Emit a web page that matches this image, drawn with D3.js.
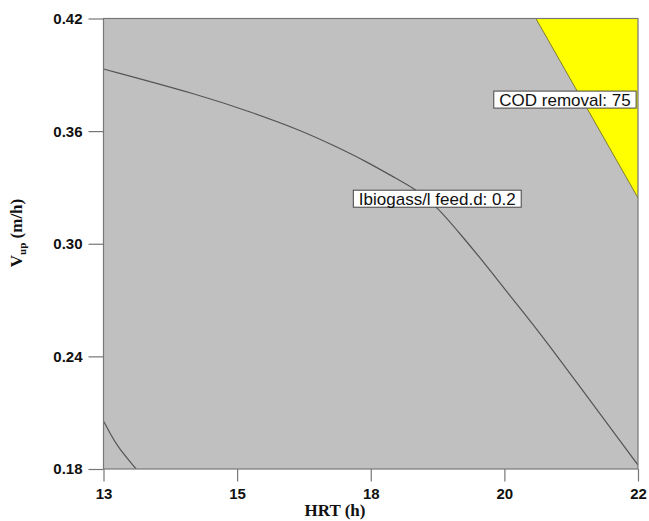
<!DOCTYPE html>
<html>
<head>
<meta charset="utf-8">
<script src="https://cdn.jsdelivr.net/npm/d3@7"></script>
<style>
  body { margin: 0; background: #fff; }
  svg { display: block; }
</style>
</head>
<body>
<svg width="649" height="521"></svg>
<script>
var WIDTH = 649;
var HEIGHT = 521;
var margin = { top: 18.5, right: 11, bottom: 52, left: 103.5 };

// axis ticks (labels are rounded in the original plot)
var xTickValues = [13, 15.25, 17.5, 19.75, 22];
var xTickLabels = ['13', '15', '18', '20', '22'];
var yTickValues = [0.18, 0.24, 0.30, 0.36, 0.42];
var yTickLabels = ['0.18', '0.24', '0.30', '0.36', '0.42'];

// contour: Ibiogass/l feed.d = 0.2  (HRT, Vup)
var biogasHRT = [13.00, 14.63, 15.47, 16.31, 16.86, 17.44, 17.88, 18.28, 18.62, 19.05, 19.51, 19.90, 20.32, 22.00];
var biogasVup = [0.3931, 0.3792, 0.3703, 0.3606, 0.3526, 0.3436, 0.3356, 0.3286, 0.3196, 0.3036, 0.2860, 0.2700, 0.2540, 0.1821];

// second small piece of the same contour, bottom left corner
var biogas2HRT = [13.00, 13.11, 13.24, 13.55];
var biogas2Vup = [0.2056, 0.1990, 0.1917, 0.1800];

// feasible region for COD removal >= 75 (yellow)
var codHRT = [20.28, 22.00, 22.00];
var codVup = [0.4200, 0.4200, 0.3244];

// flag labels on the contours
var labelText = ['COD removal: 75', 'Ibiogass/l feed.d: 0.2'];
var labelHRT = [20.77, 18.62];
var labelVup = [0.3768, 0.3240];

var innerW = WIDTH - margin.left - margin.right;
var innerH = HEIGHT - margin.top - margin.bottom;

var svg = d3.select('svg');

var x = d3.scaleLinear().domain([13, 22]).range([0, innerW]);
var y = d3.scaleLinear().domain([0.18, 0.42]).range([innerH, 0]);

var g = svg.append('g')
    .attr('transform', 'translate(' + margin.left + ',' + margin.top + ')');

g.append('clipPath').attr('id', 'plotclip')
  .append('rect').attr('width', innerW).attr('height', innerH);

// grey background of the overlay plot
g.append('rect')
    .attr('width', innerW)
    .attr('height', innerH)
    .attr('fill', '#c0c0c0');

var plot = g.append('g').attr('clip-path', 'url(#plotclip)');

var line = d3.line()
    .x(function(d) { return x(d[0]); })
    .y(function(d) { return y(d[1]); });

var codPts = codHRT.map(function(v, i) { return [v, codVup[i]]; });
plot.append('path')
    .attr('d', line(codPts) + 'Z')
    .attr('fill', '#ffff00');
plot.append('path')
    .attr('d', line([codPts[0], codPts[2]]))
    .attr('fill', 'none')
    .attr('stroke', '#7d7d30')
    .attr('stroke-width', 1);

var curve = d3.line()
    .x(function(d) { return x(d[0]); })
    .y(function(d) { return y(d[1]); })
    .curve(d3.curveBasis);

[[biogasHRT, biogasVup], [biogas2HRT, biogas2Vup]].forEach(function(s) {
  var pts = s[0].map(function(v, i) { return [v, s[1][i]]; });
  plot.append('path')
      .attr('d', curve(pts))
      .attr('fill', 'none')
      .attr('stroke', '#555')
      .attr('stroke-width', 1.2);
});

// frame
g.append('rect')
    .attr('width', innerW)
    .attr('height', innerH)
    .attr('fill', 'none')
    .attr('stroke', '#777')
    .attr('stroke-width', 1.2);

// flag labels
labelText.forEach(function(t, i) {
  var cx = x(labelHRT[i]), cy = y(labelVup[i]);
  var lg = g.append('g');
  var box = lg.append('rect');
  var txt = lg.append('text')
      .attr('x', cx)
      .attr('y', cy + 6)
      .attr('text-anchor', 'middle')
      .attr('font-family', 'Liberation Sans, Arial, sans-serif')
      .attr('font-size', 17)
      .attr('fill', '#111')
      .text(t);
  var w = txt.node().getComputedTextLength() + 11;
  box.attr('x', cx - w / 2)
      .attr('y', cy - 8.5)
      .attr('width', w)
      .attr('height', 17)
      .attr('fill', '#fff')
      .attr('stroke', '#444')
      .attr('stroke-width', 1);
});

// axes
var xAxis = d3.axisBottom(x)
    .tickValues(xTickValues)
    .tickSize(12.5)
    .tickFormat(function(d, i) { return xTickLabels[i]; });
var yAxis = d3.axisLeft(y)
    .tickValues(yTickValues)
    .tickSize(15)
    .tickPadding(6)
    .tickFormat(function(d, i) { return yTickLabels[i]; });

var gx = g.append('g').attr('transform', 'translate(0,' + innerH + ')').call(xAxis);
var gy = g.append('g').call(yAxis);

[gx, gy].forEach(function(a) {
  a.select('.domain').remove();
  a.selectAll('.tick line').attr('stroke', '#777').attr('stroke-width', 1.2);
  a.selectAll('.tick text')
      .attr('fill', '#111')
      .attr('font-family', 'Liberation Sans, Arial, sans-serif')
      .attr('font-weight', 'bold')
      .attr('font-size', 15);
});
gx.selectAll('.tick text').attr('y', 30).attr('dy', 0);
gy.selectAll('.tick text').attr('dy', '0.33em');

// axis titles
svg.append('text')
    .attr('x', 335)
    .attr('y', 516)
    .attr('text-anchor', 'middle')
    .attr('font-family', 'Liberation Serif, Times New Roman, serif')
    .attr('font-weight', 'bold')
    .attr('font-size', 17)
    .attr('fill', '#111')
    .text('HRT (h)');

var yt = svg.append('text')
    .attr('transform', 'translate(22,233) rotate(-90)')
    .attr('text-anchor', 'middle')
    .attr('font-family', 'Liberation Serif, Times New Roman, serif')
    .attr('font-weight', 'bold')
    .attr('font-size', 17)
    .attr('fill', '#111');
yt.append('tspan').text('V');
yt.append('tspan').attr('font-size', 11).attr('dy', 4).text('up');
yt.append('tspan').attr('dy', -4).text(' (m/h)');
</script>
</body>
</html>
